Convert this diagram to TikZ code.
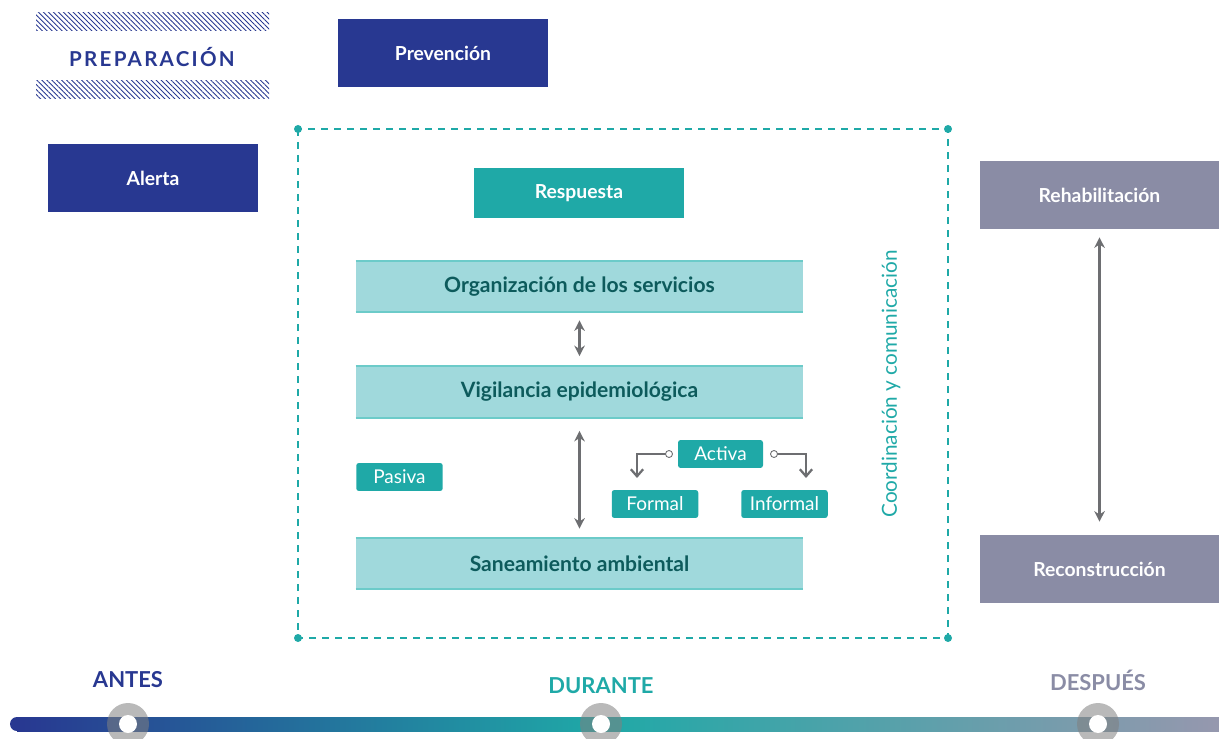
\documentclass[tikz,border=0pt]{standalone}
\usepackage{fontspec}
\setmainfont{Lato}
\usetikzlibrary{patterns.meta}
\usetikzlibrary{arrows.meta}
\definecolor{azul}{HTML}{283891}
\definecolor{verde}{HTML}{1FA9A7}
\definecolor{verdeclaro}{HTML}{A0D9DC}
\definecolor{verdeborde}{HTML}{6CCBC9}
\definecolor{verdeoscuro}{HTML}{0D5B5C}
\definecolor{lila}{HTML}{8A8CA5}
\definecolor{gris}{HTML}{6D6E71}

\begin{document}
\begin{tikzpicture}[x=0.02cm,y=-0.02cm,>={Stealth[length=6pt,width=6pt]},
    caja/.style={fill=#1,text=white,font=\fontsize{11}{13}\selectfont\bfseries,minimum width=4.2cm,minimum height=1.36cm,inner sep=0pt},
    banda/.style={fill=verdeclaro,text=verdeoscuro,font=\fontsize{12}{14}\selectfont\bfseries,minimum width=8.94cm,minimum height=1.02cm,inner sep=0pt},
    etiqueta/.style={fill=verde,text=white,rounded corners=1.5pt,font=\fontsize{10.8}{12}\selectfont,minimum width=1.73cm,minimum height=0.56cm,inner sep=0pt},
    flecha/.style={<->,draw=gris,line width=1.4pt},
    fase/.style={font=\fontsize{12.5}{14}\selectfont\bfseries}]
    \useasboundingbox (0,0) rectangle (1219,739);
    % preparacion
    \fill[pattern={Lines[angle=-45,distance=2pt,line width=0.5pt]},pattern color=azul] (36,13) rectangle (269,31);
    \fill[pattern={Lines[angle=-45,distance=2pt,line width=0.5pt]},pattern color=azul] (36,81) rectangle (269,99);
    \node[text=azul,font=\fontsize{11.7}{13}\selectfont\bfseries\addfontfeature{LetterSpace=11}] (prep) at (152,57) {PREPARACIÓN};
    \node[caja=azul] (prev) at (443,53) {Prevención};
    \node[caja=azul] (alerta) at (153,178) {Alerta};
    % respuesta
    \draw[verde,line width=0.85pt,dash pattern=on 4pt off 3.4pt] (298,129) rectangle (948,638);
    \foreach \p in {(298,129),(948,129),(298,638),(948,638)}
        \fill[verde] \p circle [radius=4];
    \node[caja=verde,minimum height=1cm] (resp) at (579,193) {Respuesta};
    \node[banda] (org) at (579.5,286.5) {Organización de los servicios};
    \node[banda] (vig) at (579.5,392) {Vigilancia epidemiológica};
    \node[banda] (san) at (579.5,563.5) {Saneamiento ambiental};
    \foreach \b in {org,vig,san}
        \draw[verdeborde,line width=1.2pt] (\b.north west) -- (\b.north east) (\b.south west) -- (\b.south east);
    \draw[flecha,shorten <=0.16cm,shorten >=0.2cm] (org.south) -- (vig.north);
    \draw[flecha,shorten <=0.26cm,shorten >=0.18cm] (vig.south) -- (san.north);
    \node[etiqueta] (pasiva) at (399.5,477) {Pasiva};
    \node[etiqueta,minimum width=1.7cm] (activa) at (720.5,454) {Activa};
    \node[etiqueta] (formal) at (655,504) {Formal};
    \node[etiqueta] (informal) at (784.5,504) {Informal};
    \coordinate (ai) at (669,454);
    \coordinate (ad) at (774,454);
    \coordinate (fi) at (637,478);
    \coordinate (fd) at (806,478);
    \draw[gris,line width=1.3pt,-{Straight Barb[length=4pt,width=7pt]}] (ai) -| (fi);
    \draw[gris,line width=1.3pt,-{Straight Barb[length=4pt,width=7pt]}] (ad) -| (fd);
    \draw[gris,fill=white,line width=0.5pt] (ai) circle [radius=3.5] (ad) circle [radius=3.5];
    \node[rotate=90,text=verde,font=\fontsize{11.8}{13}\selectfont] (coord) at (891,384) {Coordinación y comunicación};
    % despues
    \node[caja=lila,minimum width=4.78cm] (rehab) at (1099.5,195) {Rehabilitación};
    \node[caja=lila,minimum width=4.78cm] (recons) at (1099.5,569) {Reconstrucción};
    \draw[flecha,shorten <=0.16cm,shorten >=0.26cm] (rehab.south) -- (recons.north);
    % linea de tiempo
    \fill[azul] (17,724) circle [radius=7];
    \shade[left color=azul,right color=verde] (17,717) rectangle (601,731);
    \shade[left color=verde,right color=lila!90!white] (600,717) rectangle (1219,731);
    \foreach \x/\n/\c/\t/\y in {128/antes/azul/ANTES/680,601/durante/verde/DURANTE/686,1098/despues/lila/DESPUÉS/680} {
        \fill[gray,opacity=0.55] (\x,724) circle [radius=21];
        \fill[white] (\x,724) circle [radius=9];
        \node[fase,text=\c] (\n) at (\x,\y) {\t};
    }
\end{tikzpicture}
\end{document}
